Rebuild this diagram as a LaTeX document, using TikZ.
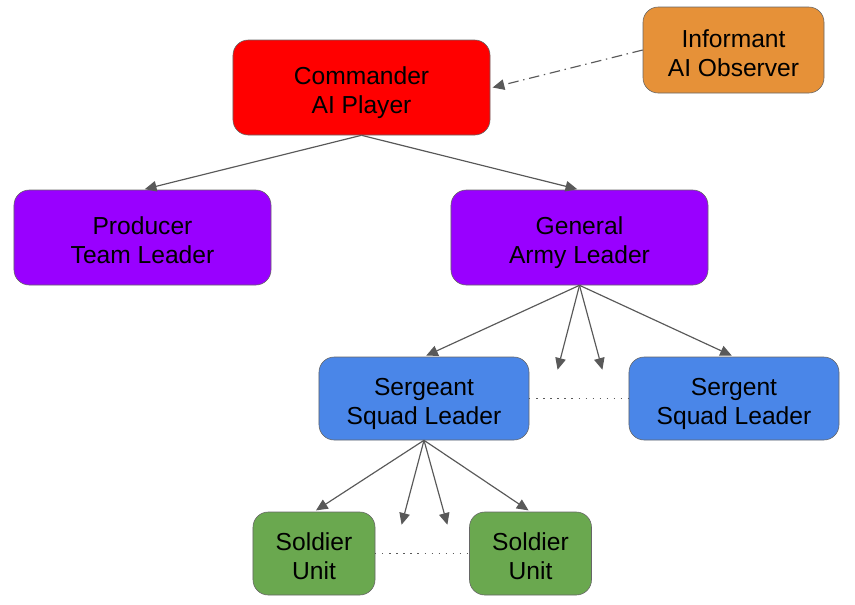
\documentclass[tikz,border=0pt]{standalone}
\usepackage{fontspec}
\setmainfont{Liberation Sans}
\usetikzlibrary{arrows.meta,positioning}
\definecolor{cmdred}{RGB}{255,0,0}
\definecolor{infoorange}{RGB}{230,145,56}
\definecolor{leadpurple}{RGB}{153,0,255}
\definecolor{squadblue}{RGB}{74,134,232}
\definecolor{unitgreen}{RGB}{106,168,79}
\definecolor{linkgray}{RGB}{89,89,89}

\begin{document}
\begin{tikzpicture}[
  x=0.03cm, y=-0.03cm,
  every node/.style={font=\fontsize{21}{25}\selectfont},
  rank/.style={draw=gray!80!black, line width=0.5pt, rounded corners=13pt,
               align=center, inner sep=0pt, text height=45pt, text depth=0pt},
  bigbox/.style={rank, minimum width=7.71cm, minimum height=2.85cm},
  midbox/.style={rank, minimum width=6.3cm, minimum height=2.49cm},
  smallbox/.style={rank, minimum width=3.66cm, minimum height=2.49cm},
  order/.style={-{Triangle[length=10pt, width=9pt]}, linkgray, line width=1pt,
                shorten >=2pt},
  intel/.style={-{Triangle[length=10pt, width=9pt]}, linkgray, line width=1pt,
                dash pattern=on 9pt off 4pt on 1.2pt off 4pt},
  peer/.style={linkgray, line width=1.1pt, dash pattern=on 1pt off 5pt},
]
\useasboundingbox (0,0) rectangle (855,604);

%% ── Top level ────────────────────────────────────────────────────────────────
\node[bigbox, fill=cmdred]      (cmd)  at (361.5, 87.5) {Commander\\AI Player};
\node[rank, fill=infoorange, minimum width=5.43cm, minimum height=2.58cm]
                                (info) at (733.5, 50)   {Informant\\AI Observer};

%% ── Leaders ──────────────────────────────────────────────────────────────────
\node[bigbox, fill=leadpurple]  (prod) at (142.5, 237.5) {Producer\\Team Leader};
\node[bigbox, fill=leadpurple]  (gen)  at (579.5, 237.5) {General\\Army Leader};

%% ── Squads ───────────────────────────────────────────────────────────────────
\node[midbox, fill=squadblue]   (sgt1) at (424, 398.5) {Sergeant\\Squad Leader};
\node[midbox, fill=squadblue]   (sgt2) at (734, 398.5) {Sergent\\Squad Leader};

%% ── Units ────────────────────────────────────────────────────────────────────
\node[smallbox, fill=unitgreen] (sol1) at (314, 553.5)   {Soldier\\Unit};
\node[smallbox, fill=unitgreen] (sol2) at (530.5, 553.5) {Soldier\\Unit};

%% ── Open ends ────────────────────────────────────────────────────────────────
\coordinate (genA) at (557, 372);
\coordinate (genB) at (603, 372);
\coordinate (sgtA) at (401, 527);
\coordinate (sgtB) at (448, 527);

%% ── Arrows ───────────────────────────────────────────────────────────────────
% Commander → leaders
\draw[order] (cmd.south) -- (prod.north);
\draw[order] (cmd.south) -- (gen.north);

% Informant → Commander
\draw[intel] (info.west) -- ([xshift=2pt]cmd.east);

% General → squads
\draw[order] (gen.south) -- (sgt1.north);
\draw[order] (gen.south) -- (genA);
\draw[order] (gen.south) -- (genB);
\draw[order] (gen.south) -- (sgt2.north);

% Sergeant → units
\draw[order] (sgt1.south) -- (sol1.north);
\draw[order] (sgt1.south) -- (sgtA);
\draw[order] (sgt1.south) -- (sgtB);
\draw[order] (sgt1.south) -- (sol2.north);

% Peers
\draw[peer] (sgt1.east) -- (sgt2.west);
\draw[peer] (sol1.east) -- (sol2.west);

\end{tikzpicture}
\end{document}
